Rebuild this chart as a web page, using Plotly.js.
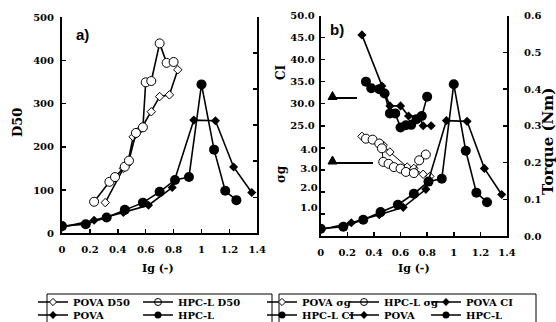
<!DOCTYPE html>
<html><head><meta charset="utf-8">
<script src="https://cdn.plot.ly/plotly-3.0.1.min.js"></script>
<style>html,body{margin:0;padding:0;background:#fff}#chart{width:556px;height:322px}</style>
</head><body><div id="chart"></div>
<script>
// ---------- data ----------
const xTicks = [0, 0.2, 0.4, 0.6, 0.8, 1, 1.2, 1.4];
const xTickText = ['0', '0.2', '0.4', '0.6', '0.8', '1', '1.2', '1.4'];

// panel a) D50
const povaD50X = [0.31, 0.44, 0.47, 0.51, 0.57, 0.64, 0.70, 0.77, 0.83];
const povaD50Y = [71, 150, 160, 223, 243, 281, 316, 320, 378];
const hpcD50X = [0.23, 0.34, 0.38, 0.45, 0.48, 0.53, 0.58, 0.60, 0.64, 0.70, 0.75, 0.80];
const hpcD50Y = [73, 119, 130, 154, 168, 232, 245, 349, 352, 439, 394, 396];

// torque (both panels)
const povaTqX = [0, 0.23, 0.44, 0.62, 0.79, 0.945, 1.10, 1.23, 1.36];
const povaTqY = [0.017, 0.036, 0.058, 0.078, 0.127, 0.314, 0.312, 0.184, 0.113];
const hpcTqX = [0, 0.17, 0.32, 0.45, 0.58, 0.70, 0.81, 0.91, 1.0, 1.09, 1.17, 1.25];
const hpcTqY = [0.020, 0.025, 0.044, 0.065, 0.085, 0.115, 0.148, 0.156, 0.413, 0.232, 0.118, 0.092];

// panel b) sigma g
const povaSgX = [0.31, 0.47, 0.52, 0.65, 0.70, 0.77, 0.82];
const povaSgY = [4.67, 4.21, 3.86, 3.08, 3.01, 2.71, 2.60];
const hpcSgX = [0.34, 0.39, 0.44, 0.46, 0.47, 0.51, 0.55, 0.60, 0.64, 0.70, 0.74, 0.79];
const hpcSgY = [4.55, 4.50, 4.30, 4.05, 3.35, 3.25, 3.08, 3.00, 2.83, 2.77, 3.43, 3.73];

// panel b) CI
const povaCIX = [0.31, 0.46, 0.48, 0.52, 0.60, 0.66, 0.74, 0.77, 0.83];
const povaCIY = [45.6, 34.0, 32.5, 29.5, 29.5, 27.2, 27.1, 25.0, 25.0];
const hpcCIX = [0.34, 0.38, 0.44, 0.48, 0.52, 0.56, 0.60, 0.64, 0.68, 0.72, 0.76, 0.80];
const hpcCIY = [35.0, 33.5, 33.3, 32.3, 27.8, 27.8, 24.6, 25.1, 25.2, 26.5, 27.2, 31.6];

const ciTicks = [0, 5, 10, 15, 20, 25, 30, 35, 40, 45, 50];
const ciTickText = ['', '', '', '', '', '25.0', '30.0', '35.0', '40.0', '45.0', '50.0'];
const sgTicks = [1, 2, 3, 4];
const sgTickText = ['1.0', '2.0', '3.0', '4.0'];
const tqTicks = [0, 0.1, 0.2, 0.3, 0.4, 0.5, 0.6];

// ---------- geometry ----------
const W = 556, H = 322, L = 62, R = 49, T = 15, B = 85;
const pw = W - L - R, ph = H - T - B;
const px = p => (p - L) / pw;
const py = p => (H - B - p) / ph;

const SERIF = 'DejaVu Serif';
const tickFont = {family: SERIF, size: 10, color: '#000', weight: 'bold'};
const lineC = '#000';

function ln(w) { return {color: lineC, width: w || 1.6}; }
const mOpenD = {symbol: 'diamond', size: 6.5, color: '#fff', line: {color: '#000', width: 1}};
const mOpenC = {symbol: 'circle', size: 9, color: '#fff', line: {color: '#000', width: 1}};
const mFillD = {symbol: 'diamond', size: 7, color: '#000'};
const mFillC = {symbol: 'circle', size: 10, color: '#000'};
// smaller symbols used only for the legend keys
const kOpenD = {symbol: 'diamond', size: 5.5, color: '#fff', line: {color: '#000', width: 1}};
const kOpenC = {symbol: 'circle-open', size: 7, color: '#000', line: {color: '#000', width: 1}};
const kFillD = {symbol: 'diamond', size: 6, color: '#000'};
const kFillC = {symbol: 'circle', size: 7, color: '#000'};

function series(x, y, marker, xa, ya, w) {
  return {x: x, y: y, mode: 'lines+markers', line: ln(w), marker: marker, xaxis: xa, yaxis: ya, showlegend: false, hoverinfo: 'skip'};
}
function key(name, marker, lg) {
  return {x: [null], y: [null], name: name, mode: 'lines+markers', line: ln(1.3), marker: marker, legend: lg, showlegend: true, hoverinfo: 'skip'};
}
// invisible trailing entry so the last real label is not clipped
function pad(lg) {
  return {x: [null], y: [null], name: ' ', mode: 'lines', line: {width: 0, color: 'rgba(0,0,0,0)'}, legend: lg, showlegend: true, hoverinfo: 'skip'};
}

const traces = [
  series(povaD50X, povaD50Y, mOpenD, 'x', 'y'),
  series(hpcD50X, hpcD50Y, mOpenC, 'x', 'y'),
  series(povaTqX, povaTqY, mFillD, 'x', 'y2'),
  series(hpcTqX, hpcTqY, mFillC, 'x', 'y2'),
  series(povaSgX, povaSgY, mOpenD, 'x2', 'y4', 1),
  series(hpcSgX, hpcSgY, mOpenC, 'x2', 'y4', 1),
  series(povaCIX, povaCIY, mFillD, 'x2', 'y3'),
  series(hpcCIX, hpcCIY, mFillC, 'x2', 'y3'),
  series(povaTqX, povaTqY, mFillD, 'x2', 'y5'),
  series(hpcTqX, hpcTqY, mFillC, 'x2', 'y5'),
  // legend keys
  key('POVA D50', kOpenD, 'legend'),
  key('HPC-L D50', kOpenC, 'legend'),
  pad('legend'),
  key('POVA', kFillD, 'legend2'),
  key('HPC-L', kFillC, 'legend2'),
  pad('legend2'),
  key('POVA σg', kOpenD, 'legend3'),
  key('HPC-L σg', kOpenC, 'legend3'),
  key('POVA CI', kFillD, 'legend3'),
  pad('legend3'),
  key('HPC-L CI', kFillC, 'legend4'),
  key('POVA', kFillD, 'legend4'),
  key('HPC-L', kFillC, 'legend4'),
  pad('legend4')
];

const axBase = {
  showgrid: false, zeroline: false, showline: true, linecolor: '#000', linewidth: 2,
  ticks: 'inside', ticklen: 4, tickwidth: 1.5, tickcolor: '#000', tickfont: tickFont, fixedrange: true
};
const sgBottom = 1 - (236 - 207.3) / 19.33;
const sgTop = 4 + (149.3 - 15.5) / 19.33;

const legFont = {family: SERIF, size: 10, color: '#000', weight: 'bold'};
function leg(xp, yp, ew) {
  return {orientation: 'h', x: px(xp), y: py(yp), xanchor: 'left', yanchor: 'middle',
    font: legFont, bgcolor: 'rgba(0,0,0,0)', borderwidth: 0, entrywidth: ew, entrywidthmode: 'pixels',
    itemwidth: 30, itemclick: false, itemdoubleclick: false, tracegroupgap: 0};
}

const annFont = (s) => ({family: SERIF, size: s, color: '#000', weight: 'bold'});
function ann(text, xp, yp, size, angle, fam) {
  return {text: text, x: px(xp), y: py(yp), xref: 'paper', yref: 'paper', showarrow: false,
    xanchor: 'center', yanchor: 'middle', textangle: angle || 0,
    font: fam ? {family: fam, size: size, color: '#000', weight: 'bold'} : annFont(size)};
}

function tri(cx, by, w, h) {
  return {type: 'path', xref: 'paper', yref: 'paper',
    path: `M ${px(cx - w / 2)} ${py(by)} L ${px(cx + w / 2)} ${py(by)} L ${px(cx)} ${py(by - h)} Z`,
    fillcolor: '#000', line: {color: '#000', width: 1}};
}
function hline(x0, x1, yv) {
  return {type: 'line', xref: 'paper', yref: 'paper', x0: px(x0), x1: px(x1), y0: py(yv), y1: py(yv), line: {color: '#000', width: 2}};
}
function box(x0, x1, y0, y1) {
  return {type: 'rect', xref: 'paper', yref: 'paper', x0: px(x0), x1: px(x1), y0: py(y0), y1: py(y1), line: {color: '#000', width: 1}, fillcolor: 'rgba(0,0,0,0)'};
}

const layout = {
  width: W, height: H, margin: {l: L, r: R, t: T, b: B, autoexpand: false},
  paper_bgcolor: '#fff', plot_bgcolor: 'rgba(0,0,0,0)',
  showlegend: true,
  xaxis: Object.assign({}, axBase, {domain: [0, px(257.3)], range: [0, 1.4], tickvals: xTicks, ticktext: xTickText, anchor: 'y', ticklabelstandoff: 6}),
  yaxis: Object.assign({}, axBase, {domain: [py(233.3), py(17)], range: [0, 500], tickvals: [0, 100, 200, 300, 400, 500], anchor: 'x', ticklabelstandoff: 4}),
  yaxis2: Object.assign({}, axBase, {overlaying: 'y', side: 'right', anchor: 'x', range: [0, 0.6], tickvals: tqTicks, showticklabels: false}),
  xaxis2: Object.assign({}, axBase, {domain: [px(320.7), px(507.3)], range: [0, 1.4], tickvals: xTicks, ticktext: xTickText, anchor: 'y3', ticklabelstandoff: 6}),
  yaxis3: Object.assign({}, axBase, {domain: [py(236), py(15.5)], range: [0, 50], tickvals: ciTicks, ticktext: ciTickText, anchor: 'x2', ticklabelstandoff: 2}),
  yaxis4: Object.assign({}, axBase, {overlaying: 'y3', side: 'left', anchor: 'x2', range: [sgBottom, sgTop], tickvals: sgTicks, ticktext: sgTickText, ticks: '', showline: false, ticklabelstandoff: 2}),
  yaxis5: Object.assign({}, axBase, {overlaying: 'y3', side: 'right', anchor: 'x2', range: [0, 0.6], tickvals: tqTicks, tickformat: '.1f', ticklabelstandoff: 13}),
  legend: leg(33, 302, 60),
  legend2: leg(33, 315, 60),
  legend3: leg(262, 302, 37),
  legend4: leg(262, 315, 37),
  annotations: [
    ann('D50', 17, 123, 13, -90),
    ann('Ig (-)', 158, 268, 11, 0),
    ann('Ig (-)', 414, 268, 11, 0),
    ann('CI', 281, 72, 12, -90),
    ann('σg', 281, 174, 12, -90),
    ann('Torque (Nm)', 548, 142, 15, -90),
    ann('a)', 82, 35, 15, 0, 'Liberation Sans'),
    ann('b)', 337, 30, 15, 0, 'Liberation Sans')
  ],
  shapes: [
    tri(332.5, 99.5, 9, 8), hline(336, 357, 98),
    tri(332.5, 164, 9, 8), hline(336, 373, 163),
    box(47, 272, 294, 330),
    box(279, 536, 294, 330)
  ]
};

Plotly.newPlot('chart', traces, layout, {displayModeBar: false, staticPlot: true});
</script></body></html>
